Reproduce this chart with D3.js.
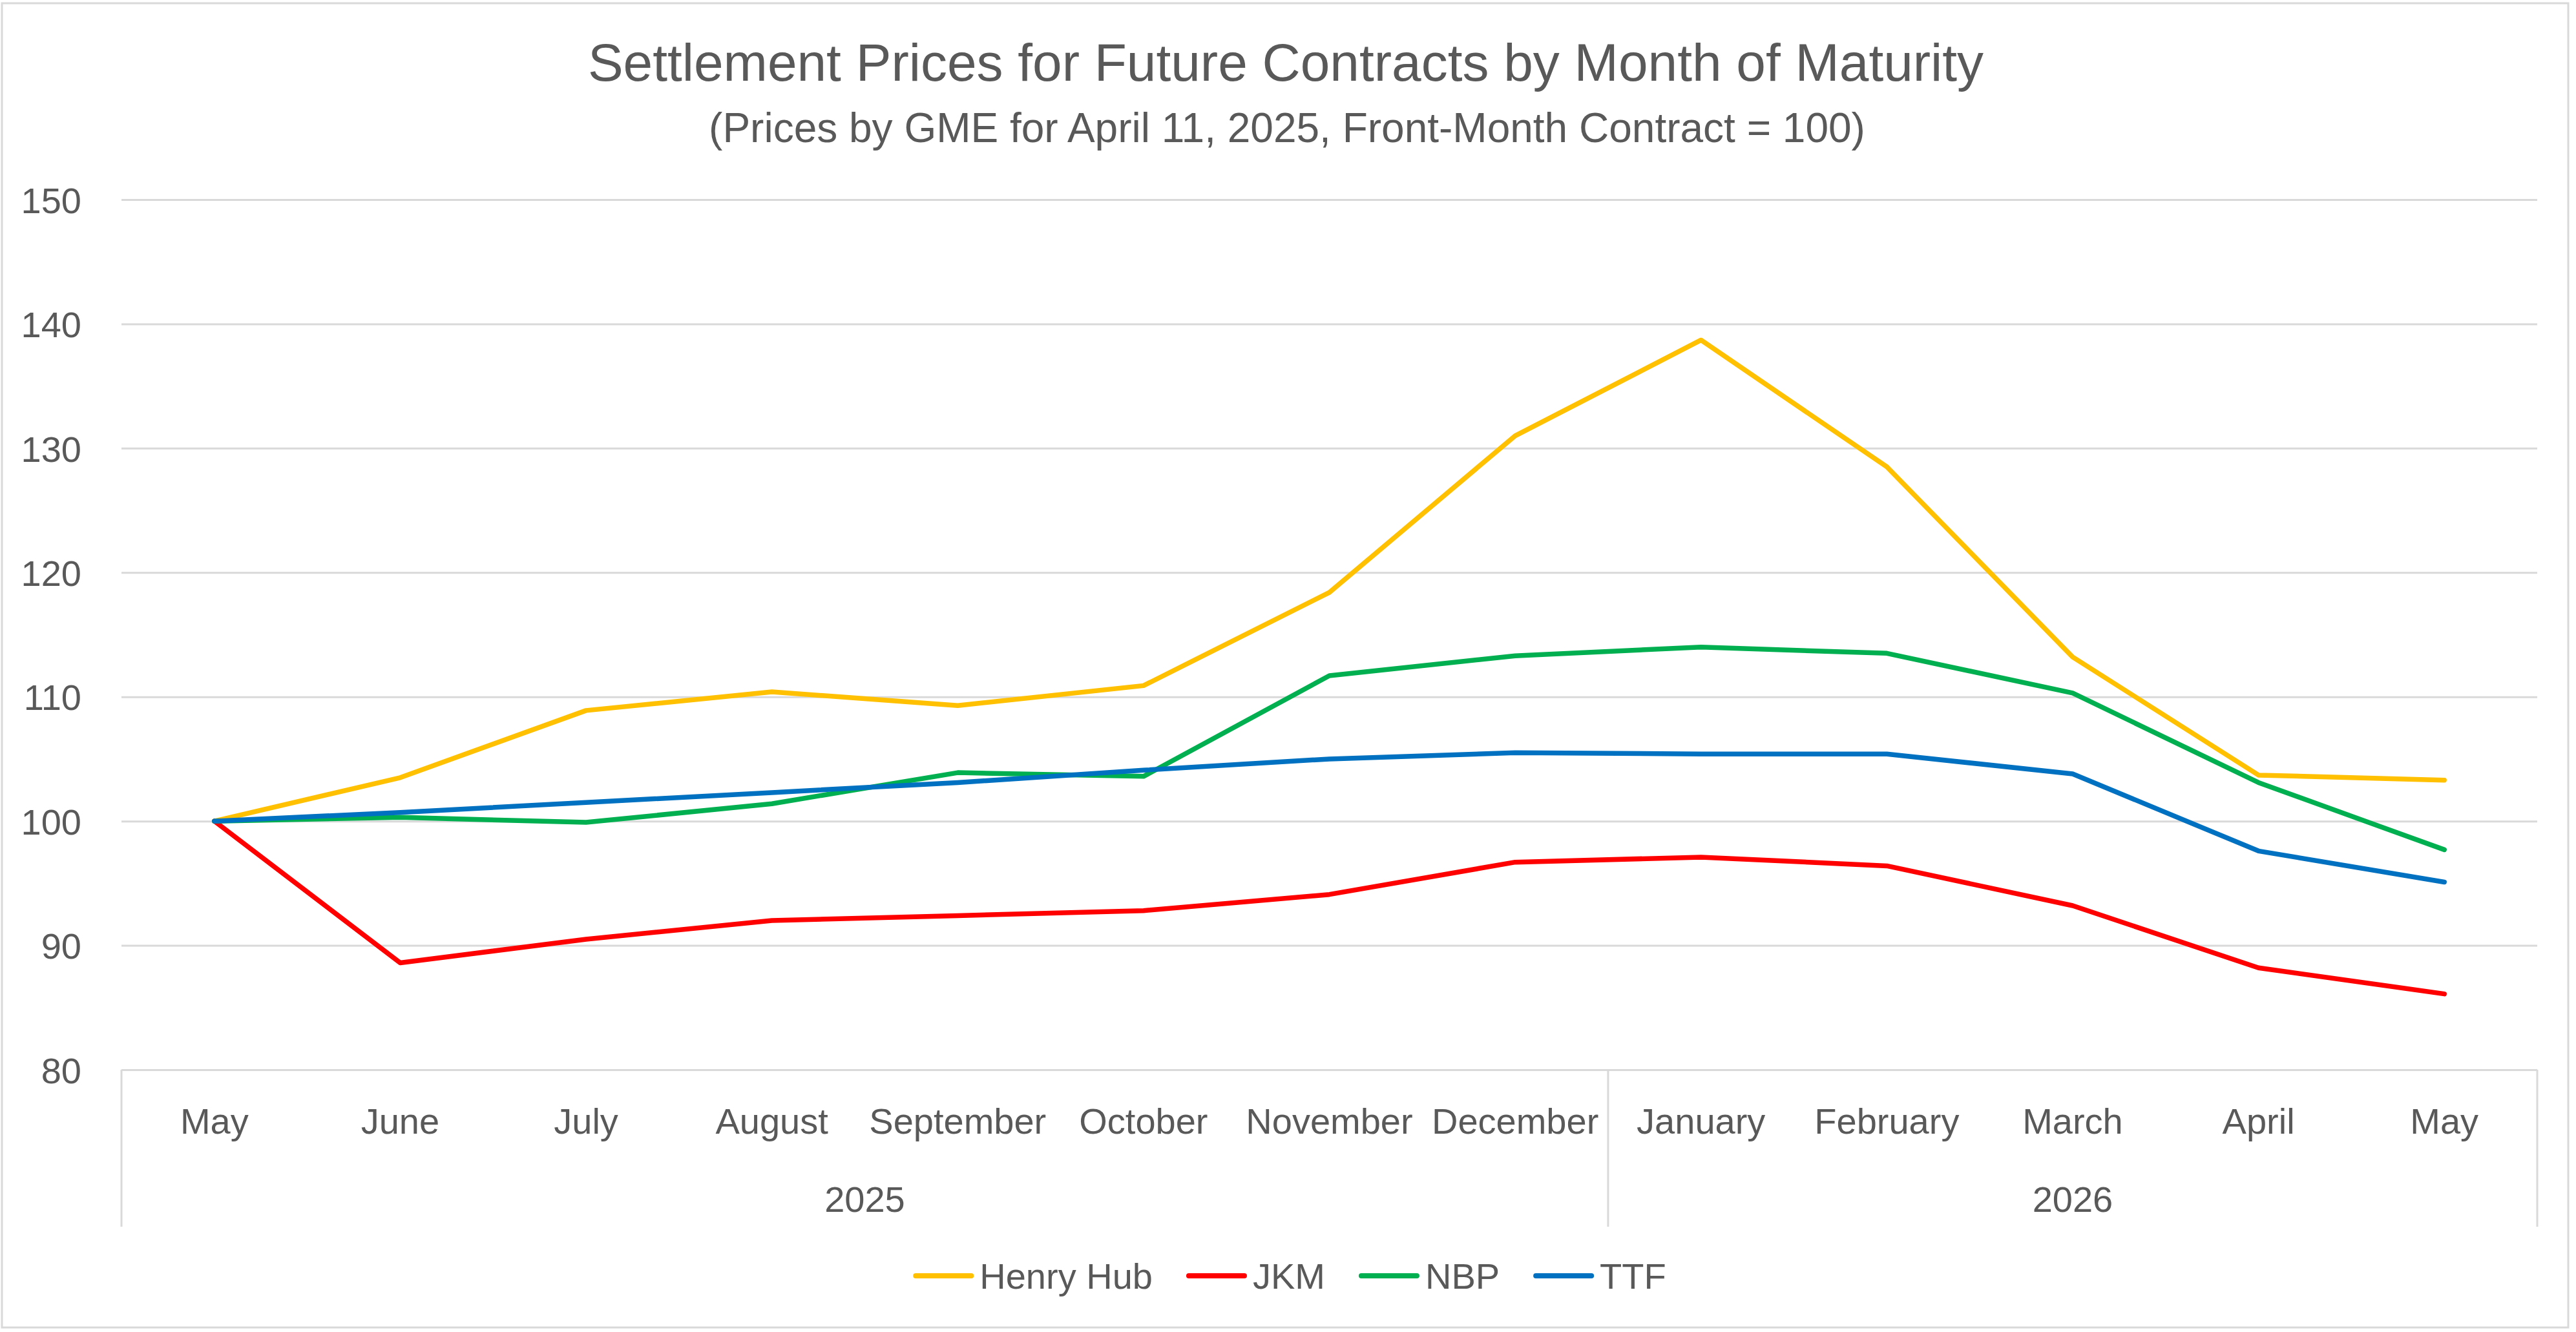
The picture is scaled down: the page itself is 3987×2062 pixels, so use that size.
<!DOCTYPE html>
<html>
<head>
<meta charset="utf-8">
<script src="https://cdn.jsdelivr.net/npm/d3@7"></script>
<style>
  html, body { margin: 0; padding: 0; background: #fff; }
  text { font-family: "Liberation Sans", Arial, sans-serif; fill: #595959; }
</style>
</head>
<body>
<div id="chart"></div>
<script>
const months = ["May", "June", "July", "August", "September", "October", "November", "December",
                "January", "February", "March", "April", "May"];
const years = [{label: "2025", from: 0, to: 8}, {label: "2026", from: 8, to: 13}];
const yTicks = [80, 90, 100, 110, 120, 130, 140, 150];

const seriesNames = ["Henry Hub", "JKM", "NBP", "TTF"];
const seriesColors = ["#FFC000", "#FF0000", "#00B050", "#0070C0"];
const henryHub = [100, 103.5, 108.9, 110.4, 109.3, 110.9, 118.4, 131.0, 138.7, 128.5, 113.2, 103.7, 103.3];
const jkm      = [100, 88.6, 90.5, 92.0, 92.4, 92.8, 94.1, 96.7, 97.1, 96.4, 93.2, 88.2, 86.1];
const nbp      = [100, 100.3, 99.9, 101.4, 103.9, 103.6, 111.7, 113.3, 114.0, 113.5, 110.3, 103.1, 97.7];
const ttf      = [100, 100.7, 101.5, 102.3, 103.1, 104.1, 105.0, 105.5, 105.4, 105.4, 103.8, 97.6, 95.1];
const seriesValues = [henryHub, jkm, nbp, ttf];

const W = 3987, H = 2062;
const plotL = 188, plotR = 3927, plotT = 309, plotB = 1656;

const svg = d3.select("#chart").append("svg").attr("width", W).attr("height", H);

// outer border
svg.append("rect").attr("x", 3).attr("y", 5).attr("width", 3972).attr("height", 2050)
   .attr("fill", "#fff").attr("stroke", "#D9D9D9").attr("stroke-width", 3);

const x = d3.scaleBand().domain(d3.range(months.length)).range([plotL, plotR]).padding(0);
const y = d3.scaleLinear().domain([80, 150]).range([plotB, plotT]);

// titles
svg.append("text").attr("x", 1990).attr("y", 125).attr("text-anchor", "middle")
   .style("font-size", "82px").text("Settlement Prices for Future Contracts by Month of Maturity");
svg.append("text").attr("x", 1992).attr("y", 220).attr("text-anchor", "middle")
   .style("font-size", "64px").text("(Prices by GME for April 11, 2025, Front-Month Contract = 100)");

// gridlines + y labels
const yAxis = svg.append("g").attr("transform", `translate(${plotL},0)`)
   .call(d3.axisLeft(y).tickValues(yTicks).tickSize(-(plotR - plotL)).tickPadding(62));
yAxis.select(".domain").remove();
yAxis.selectAll("line").attr("stroke", "#D9D9D9").attr("stroke-width", 3);
yAxis.selectAll("text").style("font-size", "56px").attr("fill", "#595959").attr("dy", "0.36em");

// category axis: month labels
const xAxis = svg.append("g").attr("transform", `translate(0,${plotB})`)
   .call(d3.axisBottom(x).tickFormat(i => months[i]).tickSize(0).tickPadding(0));
xAxis.select(".domain").remove();
xAxis.selectAll("text").style("font-size", "56px").attr("fill", "#595959").attr("y", 99).attr("dy", 0);

// year separators and labels
const seps = [0, 8, 13].map(i => i < months.length ? x(i) : plotR);
svg.selectAll(".sep").data(seps).enter().append("line")
   .attr("x1", d => d).attr("x2", d => d).attr("y1", plotB).attr("y2", 1899)
   .attr("stroke", "#D9D9D9").attr("stroke-width", 3);
svg.selectAll(".year").data(years).enter().append("text")
   .attr("x", d => (x(d.from) + (d.to < months.length ? x(d.to) : plotR)) / 2)
   .attr("y", 1876).attr("text-anchor", "middle").style("font-size", "56px").text(d => d.label);

// lines
const line = d3.line().x((d, i) => x(i) + x.bandwidth() / 2).y(d => y(d));
svg.selectAll(".series").data(seriesValues).enter().append("path")
   .attr("d", d => line(d)).attr("fill", "none")
   .attr("stroke", (d, i) => seriesColors[i]).attr("stroke-width", 7.5)
   .attr("stroke-linejoin", "round").attr("stroke-linecap", "round");

// legend
const leg = svg.append("g");
let cx = 0;
seriesNames.forEach((name, i) => {
    const g = leg.append("g").attr("transform", `translate(${cx},0)`);
    g.append("line").attr("x1", 4).attr("x2", 90).attr("y1", 0).attr("y2", 0)
     .attr("stroke", seriesColors[i]).attr("stroke-width", 8).attr("stroke-linecap", "round");
    const t = g.append("text").attr("x", 103).attr("y", 20).style("font-size", "56px").text(name);
    cx += 103 + t.node().getComputedTextLength() + 52;
});
const legW = cx - 52;
leg.attr("transform", `translate(${1996 - legW / 2},1975)`);
</script>
</body>
</html>
